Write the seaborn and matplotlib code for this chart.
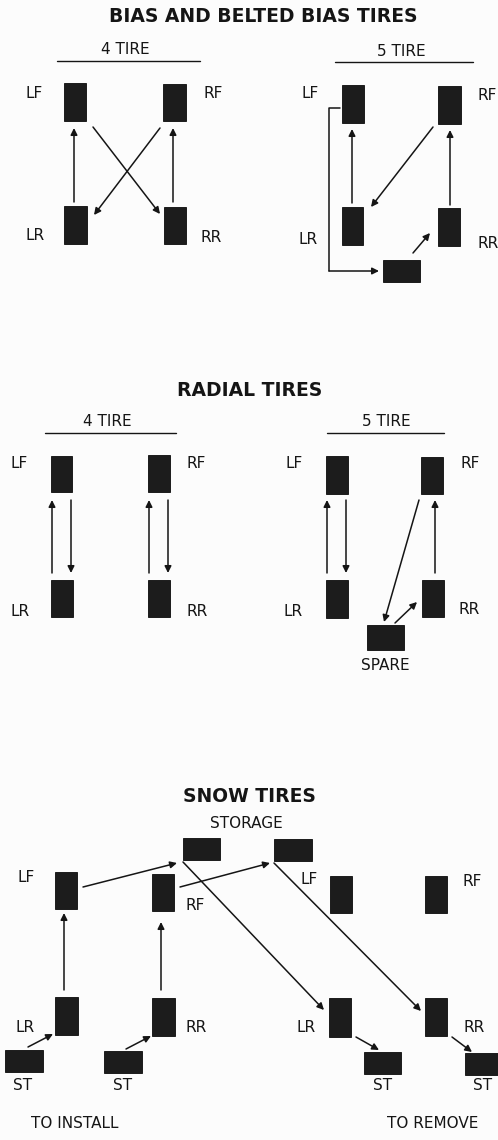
import matplotlib
matplotlib.use("Agg")
import matplotlib.pyplot as plt
import seaborn as sns
import pandas as pd

# tire blocks: name, left, top, right, bottom (pixel grid of the page)
tire_name = ['b4_LF', 'b4_RF', 'b4_LR', 'b4_RR',
             'b5_LF', 'b5_RF', 'b5_LR', 'b5_RR', 'b5_SP',
             'r4_LF', 'r4_RF', 'r4_LR', 'r4_RR',
             'r5_LF', 'r5_RF', 'r5_LR', 'r5_RR', 'r5_SP',
             'st_1', 'st_2',
             'si_LF', 'si_RF', 'si_LR', 'si_RR', 'si_ST1', 'si_ST2',
             'sr_LF', 'sr_RF', 'sr_LR', 'sr_RR', 'sr_ST1', 'sr_ST2']
tire_x0 = [64, 163, 64, 164, 342, 438, 342, 438, 383,
           51, 148, 51, 148, 326, 421, 326, 422, 367,
           183, 274,
           55, 152, 55, 152, 5, 104,
           330, 425, 329, 425, 364, 465]
tire_y0 = [83, 84, 206, 207, 85, 86, 207, 208, 260,
           456, 455, 580, 580, 456, 457, 580, 580, 625,
           838, 839,
           872, 874, 997, 998, 1050, 1051,
           876, 876, 998, 998, 1052, 1053]
tire_x1 = [86, 186, 87, 186, 364, 461, 363, 460, 420,
           72, 170, 73, 170, 348, 443, 348, 444, 404,
           220, 312,
           77, 174, 78, 175, 43, 142,
           352, 447, 351, 447, 401, 500]
tire_y1 = [121, 121, 244, 244, 123, 124, 245, 246, 282,
           492, 492, 617, 617, 494, 494, 618, 617, 650,
           860, 861,
           909, 911, 1035, 1036, 1072, 1073,
           913, 913, 1037, 1036, 1074, 1075]

# rotation arrows: start x, start y, end x, end y
arrow_x0 = [74, 173, 93, 160,
            352, 450, 433, 413,
            52, 71, 149, 168,
            327, 346, 435, 419, 395,
            64, 161, 28, 126, 83, 180,
            183, 274, 356, 452]
arrow_y0 = [202, 202, 127, 128,
            203, 205, 127, 253,
            573, 500, 573, 500,
            573, 500, 573, 500, 623,
            990, 990, 1047, 1049, 887, 887,
            862, 863, 1037, 1037]
arrow_x1 = [74, 173, 160, 94,
            352, 450, 371, 430,
            52, 71, 149, 168,
            327, 346, 435, 384, 417,
            64, 161, 53, 151, 177, 270,
            324, 421, 379, 472]
arrow_y1 = [128, 128, 214, 215,
            129, 130, 207, 233,
            500, 573, 500, 573,
            500, 573, 500, 622, 602,
            913, 922, 1034, 1036, 863, 863,
            1010, 1011, 1050, 1052]

# LF -> spare path in the 5 tire bias diagram
path_x = [340, 329, 329, 379]
path_y = [108, 108, 271, 271]

# titles
title_text = ['BIAS AND BELTED BIAS TIRES', 'RADIAL TIRES', 'SNOW TIRES']
title_x = [263, 250, 249]
title_y = [17, 390, 797]

# sub headings (underlined)
sub_text = ['4 TIRE', '5 TIRE', '4 TIRE', '5 TIRE']
sub_x = [125, 401, 107, 386]
sub_y = [50, 51, 422, 422]
rule_x0 = [57, 335, 45, 327]
rule_x1 = [200, 473, 176, 444]
rule_y = [61, 62, 433, 433]

# wheel position labels
label_text = ['LF', 'RF', 'LR', 'RR',
              'LF', 'RF', 'LR', 'RR',
              'LF', 'RF', 'LR', 'RR',
              'LF', 'RF', 'LR', 'RR', 'SPARE',
              'STORAGE',
              'LF', 'RF', 'LR', 'RR', 'ST', 'ST',
              'LF', 'RF', 'LR', 'RR', 'ST', 'ST',
              'TO INSTALL', 'TO REMOVE']
label_x = [34, 213, 35, 211,
           310, 487, 308, 488,
           19, 196, 20, 197,
           294, 470, 293, 469, 385,
           246,
           26, 195, 25, 196, 23, 123,
           309, 472, 306, 474, 383, 483,
           75, 433]
label_y = [93, 93, 236, 238,
           93, 96, 239, 243,
           464, 464, 612, 612,
           464, 463, 612, 610, 665,
           824,
           878, 906, 1027, 1027, 1086, 1086,
           880, 882, 1028, 1028, 1086, 1086,
           1124, 1124]

tires = pd.DataFrame({'name': tire_name, 'x0': tire_x0, 'y0': tire_y0,
                      'x1': tire_x1, 'y1': tire_y1})

sns.set_theme(style="white")
plt.rcParams['font.family'] = ['DejaVu Sans']

fig = plt.figure(figsize=(4.98, 11.4), dpi=100, facecolor='#fcfcfc')
ax = fig.add_axes([0, 0, 1, 1])
ax.set_facecolor('#fcfcfc')
ax.set_xlim(0, 498)
ax.set_ylim(1140, 0)
ax.axis('off')

ink = '#151515'

# tires as bars
ax.bar((tires['x0'] + tires['x1']) / 2, tires['y1'] - tires['y0'],
       width=tires['x1'] - tires['x0'], bottom=tires['y0'],
       color='#1c1c1c', edgecolor='#0a0a0a', linewidth=0.6)

for xs, ys, xe, ye in zip(arrow_x0, arrow_y0, arrow_x1, arrow_y1):
    ax.annotate('', xy=(xe, ye), xytext=(xs, ys),
                arrowprops=dict(arrowstyle='-|>', color=ink, lw=1.1,
                                mutation_scale=10, shrinkA=0, shrinkB=0))

ax.plot(path_x[:-1], path_y[:-1], color=ink, lw=1.1)
ax.annotate('', xy=(path_x[-1], path_y[-1]), xytext=(path_x[-2], path_y[-2]),
            arrowprops=dict(arrowstyle='-|>', color=ink, lw=1.1,
                            mutation_scale=10, shrinkA=0, shrinkB=0))

for t, x, y in zip(title_text, title_x, title_y):
    ax.text(x, y, t, ha='center', va='center', fontsize=13.5,
            fontweight='bold', color=ink)

for t, x, y in zip(sub_text, sub_x, sub_y):
    ax.text(x, y, t, ha='center', va='center', fontsize=11, color=ink)
for xa, xb, y in zip(rule_x0, rule_x1, rule_y):
    ax.plot([xa, xb], [y, y], color=ink, lw=1.0)

for t, x, y in zip(label_text, label_x, label_y):
    ax.text(x, y, t, ha='center', va='center', fontsize=11, color=ink)

fig.savefig('out.png', dpi=100, facecolor=fig.get_facecolor())
